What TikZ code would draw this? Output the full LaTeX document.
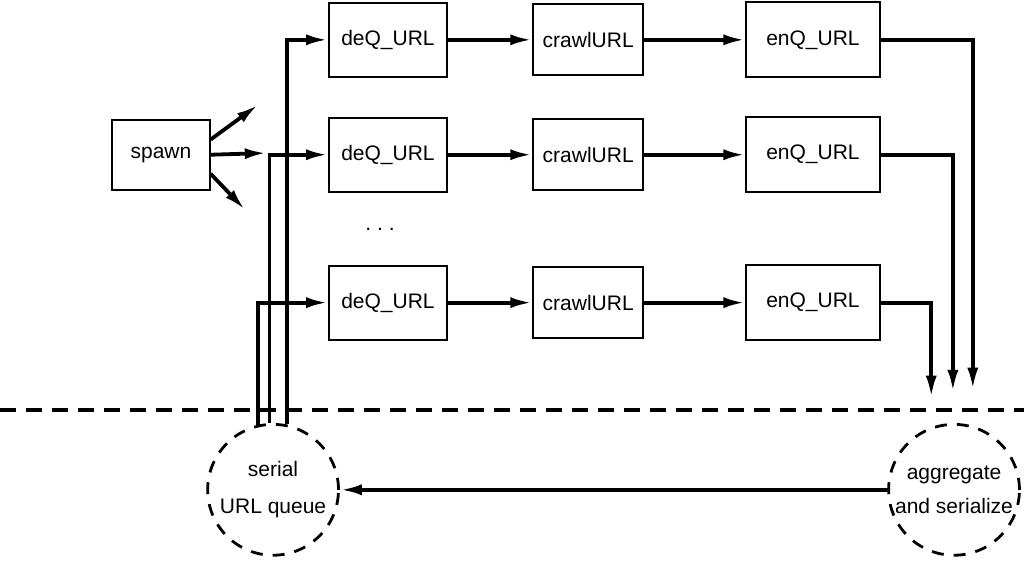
\documentclass[tikz,border=0pt]{standalone}
\usepackage{fontspec}
\setmainfont{Liberation Sans}
\usetikzlibrary{positioning,arrows.meta,calc}

\begin{document}
\begin{tikzpicture}[font=\fontsize{10.5}{12}\selectfont]
\tikzset{
  BX/.style={draw,line width=1pt,rectangle,minimum width=2.07cm,minimum height=1.3cm,inner sep=2pt},
  QC/.style={draw,circle,dash pattern=on 6pt off 5pt,line width=1.4pt,minimum size=2.3cm,align=center,inner sep=0pt},
  FL/.style={-{Latex[length=11pt,width=5.5pt]},line width=1.9pt},
  SP/.style={dash pattern=on 8pt off 5pt,line width=1.7pt},
}
\useasboundingbox (0,0) rectangle (18,9.93);

\node[BX,minimum width=1.71cm,minimum height=1.23cm](spawn) at (2.83,7.21){spawn};

\node[BX](dq1) at ( 6.82,9.23){deQ\_URL};
\node[BX,minimum width=1.93cm,minimum height=1.25cm](cr1) at (10.34,9.23){crawlURL};
\node[BX,minimum width=2.34cm,minimum height=1.32cm](eq1) at (14.29,9.23){enQ\_URL};

\node[BX](dq2) at ( 6.82,7.21){deQ\_URL};
\node[BX,minimum width=1.93cm,minimum height=1.25cm](cr2) at (10.34,7.21){crawlURL};
\node[BX,minimum width=2.34cm,minimum height=1.32cm](eq2) at (14.29,7.21){enQ\_URL};

\node(dots) at (6.68,5.89){.\ .\ .};

\node[BX](dq3) at ( 6.82,4.61){deQ\_URL};
\node[BX,minimum width=1.93cm,minimum height=1.25cm](cr3) at (10.34,4.61){crawlURL};
\node[BX,minimum width=2.34cm,minimum height=1.32cm](eq3) at (14.29,4.61){enQ\_URL};

\node[QC](queue) at ( 4.80,1.32){serial\\[6.5pt]URL queue};
\node[QC](agg)   at (16.77,1.32){aggregate\\[5pt]and serialize};

\coordinate (sepL) at (0,2.72);
\coordinate (sepR) at (18,2.72);
\draw[SP](sepL)--(sepR);

% spawn fan-out
\coordinate (sp1) at (4.54,8.09);
\coordinate (sp2) at (4.69,7.24);
\coordinate (sp3) at (4.31,6.24);
\draw[FL](spawn.17)--(sp1);
\draw[FL](spawn.east)--(sp2);
\draw[FL](spawn.-21)--(sp3);

\draw[FL](dq1.east)--(cr1.west);
\draw[FL](cr1.east)--(eq1.west);
\draw[FL](dq2.east)--(cr2.west);
\draw[FL](cr2.east)--(eq2.west);
\draw[FL](dq3.east)--(cr3.west);
\draw[FL](cr3.east)--(eq3.west);

% queue feeds the workers
\draw[FL](queue.78)|-(dq1.west);
\draw[FL](queue.93)|-(dq2.west);
\draw[FL](queue.103)|-(dq3.west);

% results down to the aggregator
\coordinate (in1) at (17.10,3.08);
\coordinate (in2) at (16.75,3.04);
\coordinate (in3) at (16.37,2.94);
\draw[FL](eq1.east)-|(in1);
\draw[FL](eq2.east)-|(in2);
\draw[FL](eq3.east)-|(in3);

\draw[FL](agg.west)--(queue.east);

\end{tikzpicture}
\end{document}
